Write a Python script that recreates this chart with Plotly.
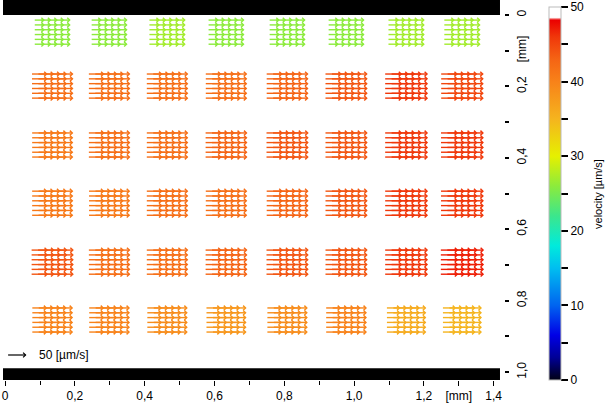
import plotly.graph_objects as go
from plotly.colors import sample_colorscale

# PIV cluster centres [mm] and mean velocity of each cluster [µm/s]
col_x = [0.135, 0.298, 0.464, 0.633, 0.808, 0.977, 1.149, 1.309]
row_y = [0.048, 0.199, 0.364, 0.527, 0.692, 0.854]
velocity = [
    [26, 26, 27, 26, 26, 26, 27, 27],
    [42, 42, 42, 42, 43, 44, 46, 45],
    [41, 42, 42, 43, 44, 44, 46, 46],
    [41, 41, 42, 42, 43, 44, 46, 46],
    [44, 42, 42, 43, 44, 44, 46, 47],
    [40, 40, 39, 38, 39, 40, 36, 35],
]

x_tickvals = [0, 0.2, 0.4, 0.6, 0.8, 1.0, 1.2, 1.3, 1.4]
x_ticktext = ["0", "0,2", "0,4", "0,6", "0,8", "1,0", "1,2", "[mm]", "1,4"]
y_tickvals = [0, 0.1, 0.2, 0.4, 0.6, 0.8, 1.0]
y_ticktext = ["0", "[mm]", "0,2", "0,4", "0,6", "0,8", "1,0"]
cb_tickvals = [0, 5, 10, 15, 20, 25, 30, 35, 40, 45, 50]
cb_ticktext = ["0", "", "10", "", "20", "", "30", "", "40", "", "50"]

scale_ref = 50  # reference arrow [µm/s]

colorscale = [
    [0.0, "rgb(0,0,20)"],
    [0.06, "rgb(0,0,150)"],
    [0.12, "rgb(0,0,230)"],
    [0.2, "rgb(0,100,240)"],
    [0.3, "rgb(0,190,240)"],
    [0.36, "rgb(0,235,220)"],
    [0.44, "rgb(60,230,140)"],
    [0.52, "rgb(140,235,60)"],
    [0.6, "rgb(230,240,0)"],
    [0.7, "rgb(245,180,30)"],
    [0.8, "rgb(248,130,25)"],
    [0.86, "rgb(245,100,20)"],
    [0.92, "rgb(240,55,10)"],
    [0.965, "rgb(235,0,0)"],
    [0.972, "rgb(255,255,255)"],
    [1.0, "rgb(255,255,255)"],
]

k = 0.001          # mm of arrow per µm/s
dx, dy = 0.0185, 0.0135
n_cols, n_rows = 5, 6
head_len, head_w = 0.007, 0.0065


def arrow_xy(x0, y0, length, xs, ys):
    x1 = x0 + length
    xs += [x0, x1, None, x1 - head_len, x1, x1 - head_len, None]
    ys += [y0, y0, None, y0 - head_w, y0, y0 + head_w, None]


fig = go.Figure()

for i, cy in enumerate(row_y):
    for j, cx in enumerate(col_x):
        v = velocity[i][j]
        L = v * k
        width = (n_cols - 1) * dx + L
        xs, ys = [], []
        for r in range(n_rows):
            for c in range(n_cols):
                x0 = cx - width / 2 + c * dx
                y0 = cy + (r - (n_rows - 1) / 2) * dy
                arrow_xy(x0, y0, L, xs, ys)
        color = sample_colorscale(colorscale, [v / 50])[0]
        fig.add_trace(go.Scatter(x=xs, y=ys, mode="lines",
                                 line=dict(color=color, width=1.4),
                                 hoverinfo="skip", showlegend=False))

# reference arrow
xs, ys = [], []
arrow_xy(0.0086, 0.952, scale_ref * k, xs, ys)
fig.add_trace(go.Scatter(x=xs, y=ys, mode="lines", line=dict(color="black", width=1.2),
                         hoverinfo="skip", showlegend=False))
fig.add_annotation(x=0.092, y=0.952, text="50 [µm/s]", showarrow=False,
                   xanchor="left", yanchor="middle", font=dict(size=12, color="black"))

# dummy trace for the colour bar
fig.add_trace(go.Scatter(
    x=[None], y=[None], mode="markers", showlegend=False,
    marker=dict(color=[0], cmin=0, cmax=50, colorscale=colorscale, showscale=True,
                colorbar=dict(
                    x=1.09, xanchor="left", xpad=0, y=0, yanchor="bottom", len=0.982,
                    ypad=0, thickness=12, outlinewidth=1, outlinecolor="#bbbbbb",
                    ticks="outside", ticklen=7, tickcolor="black", tickwidth=1.5,
                    tickvals=cb_tickvals, ticktext=cb_ticktext,
                    tickfont=dict(size=12, color="black"),
                )),
))
fig.add_annotation(xref="paper", yref="paper", x=1.188, y=0.49, text="velocity [µm/s]",
                   textangle=-90, showarrow=False, xanchor="center", yanchor="middle",
                   font=dict(size=11, color="black"))

# channel walls
fig.add_shape(type="rect", x0=-0.006, x1=1.418, y0=-0.042, y1=0.0,
              fillcolor="black", line=dict(width=0))
fig.add_shape(type="rect", x0=-0.006, x1=1.418, y0=0.989, y1=1.022,
              fillcolor="black", line=dict(width=0))

fig.update_layout(
    width=609, height=406,
    margin=dict(l=3, r=105, t=0, b=26, autoexpand=False),
    plot_bgcolor="white", paper_bgcolor="white",
    font=dict(family="Arial, Liberation Sans, sans-serif", size=12, color="black"),
    showlegend=False,
)
fig.update_xaxes(
    domain=[0, 0.992], range=[-0.006, 1.418], showgrid=False, zeroline=False,
    ticks="outside", ticklen=5, tickcolor="black", tickwidth=1.3,
    tickvals=x_tickvals, ticktext=x_ticktext,
    minor=dict(tickvals=[0.1, 0.3, 0.5, 0.7, 0.9, 1.1], ticks="outside", ticklen=4,
               tickcolor="black", tickwidth=1.3),
    tickfont=dict(size=12), showline=False,
)
fig.update_yaxes(
    range=[1.022, -0.042], side="right", anchor="free", position=1.0,
    showgrid=False, zeroline=False, showline=False,
    ticks="outside", ticklen=4, tickcolor="black", tickwidth=1.5,
    tickvals=y_tickvals, ticktext=y_ticktext, tickangle=-90, ticklabelstandoff=3,
    minor=dict(tickvals=[0.3, 0.5, 0.7, 0.9], ticks="outside", ticklen=4,
               tickcolor="black", tickwidth=1.5),
    tickfont=dict(size=12),
)

# drop the browser's default body margin so the figure sits at the window corner
fig.write_html("out.html", config={"displayModeBar": False},
               post_script="document.body.style.margin='0';document.body.style.overflow='hidden';")
